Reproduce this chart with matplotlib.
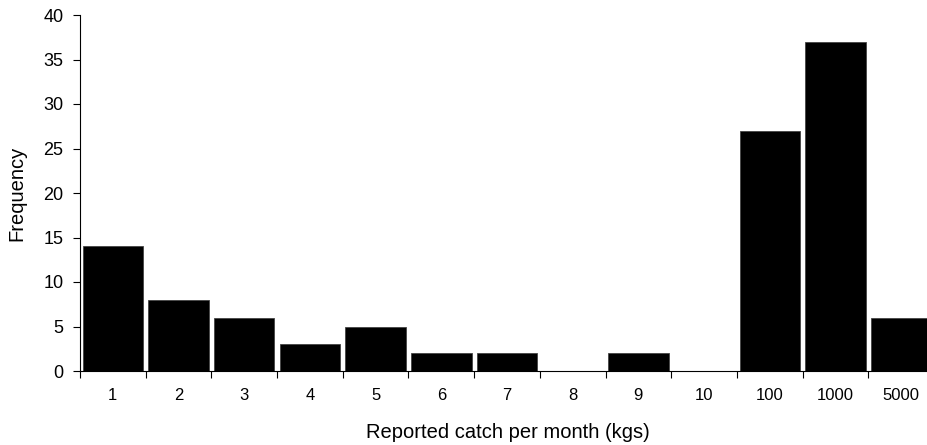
import numpy as np
import matplotlib.pyplot as plt
from matplotlib.ticker import FixedLocator

plt.rcParams['font.family'] = ['Liberation Sans', 'DejaVu Sans']

# reported catch classes and how often each was reported
catch_classes = ["1", "2", "3", "4", "5", "6", "7", "8", "9", "10", "100", "1000", "5000"]
frequency = [14, 8, 6, 3, 5, 2, 2, 0, 2, 0, 27, 37, 6]

fig = plt.figure(figsize=(9.28, 4.45), dpi=100)
# axis runs past the right edge of the figure, as in the original
ax = fig.add_axes([80 / 928, 74 / 445, 854 / 928, 356 / 445])

x = np.arange(len(catch_classes))
ax.bar(x, frequency, width=0.92, color="black", edgecolor="#444444", linewidth=0.6)

ax.set_xlim(-0.5, len(catch_classes) - 0.5)
ax.set_ylim(0, 40)
ax.set_yticks(range(0, 41, 5))
ax.tick_params(axis="y", labelsize=13, length=5, width=0.8, pad=7)

ax.set_xticks(x)
ax.set_xticklabels(catch_classes)
ax.tick_params(axis="x", which="major", length=0, labelsize=12, pad=12)
ax.xaxis.set_minor_locator(FixedLocator(np.arange(-0.5, len(catch_classes), 1.0)))
ax.tick_params(axis="x", which="minor", length=5, width=0.8)

for side in ("top", "right"):
    ax.spines[side].set_visible(False)
for side in ("left", "bottom"):
    ax.spines[side].set_linewidth(0.8)

fig.text(508 / 928, 1 - 432 / 445, "Reported catch per month (kgs)",
         ha="center", va="center", fontsize=14.5)
fig.text(17 / 928, 1 - 193 / 445, "Frequency", rotation=90,
         ha="center", va="center", fontsize=14.5)

fig.savefig("out.png", dpi=100)
